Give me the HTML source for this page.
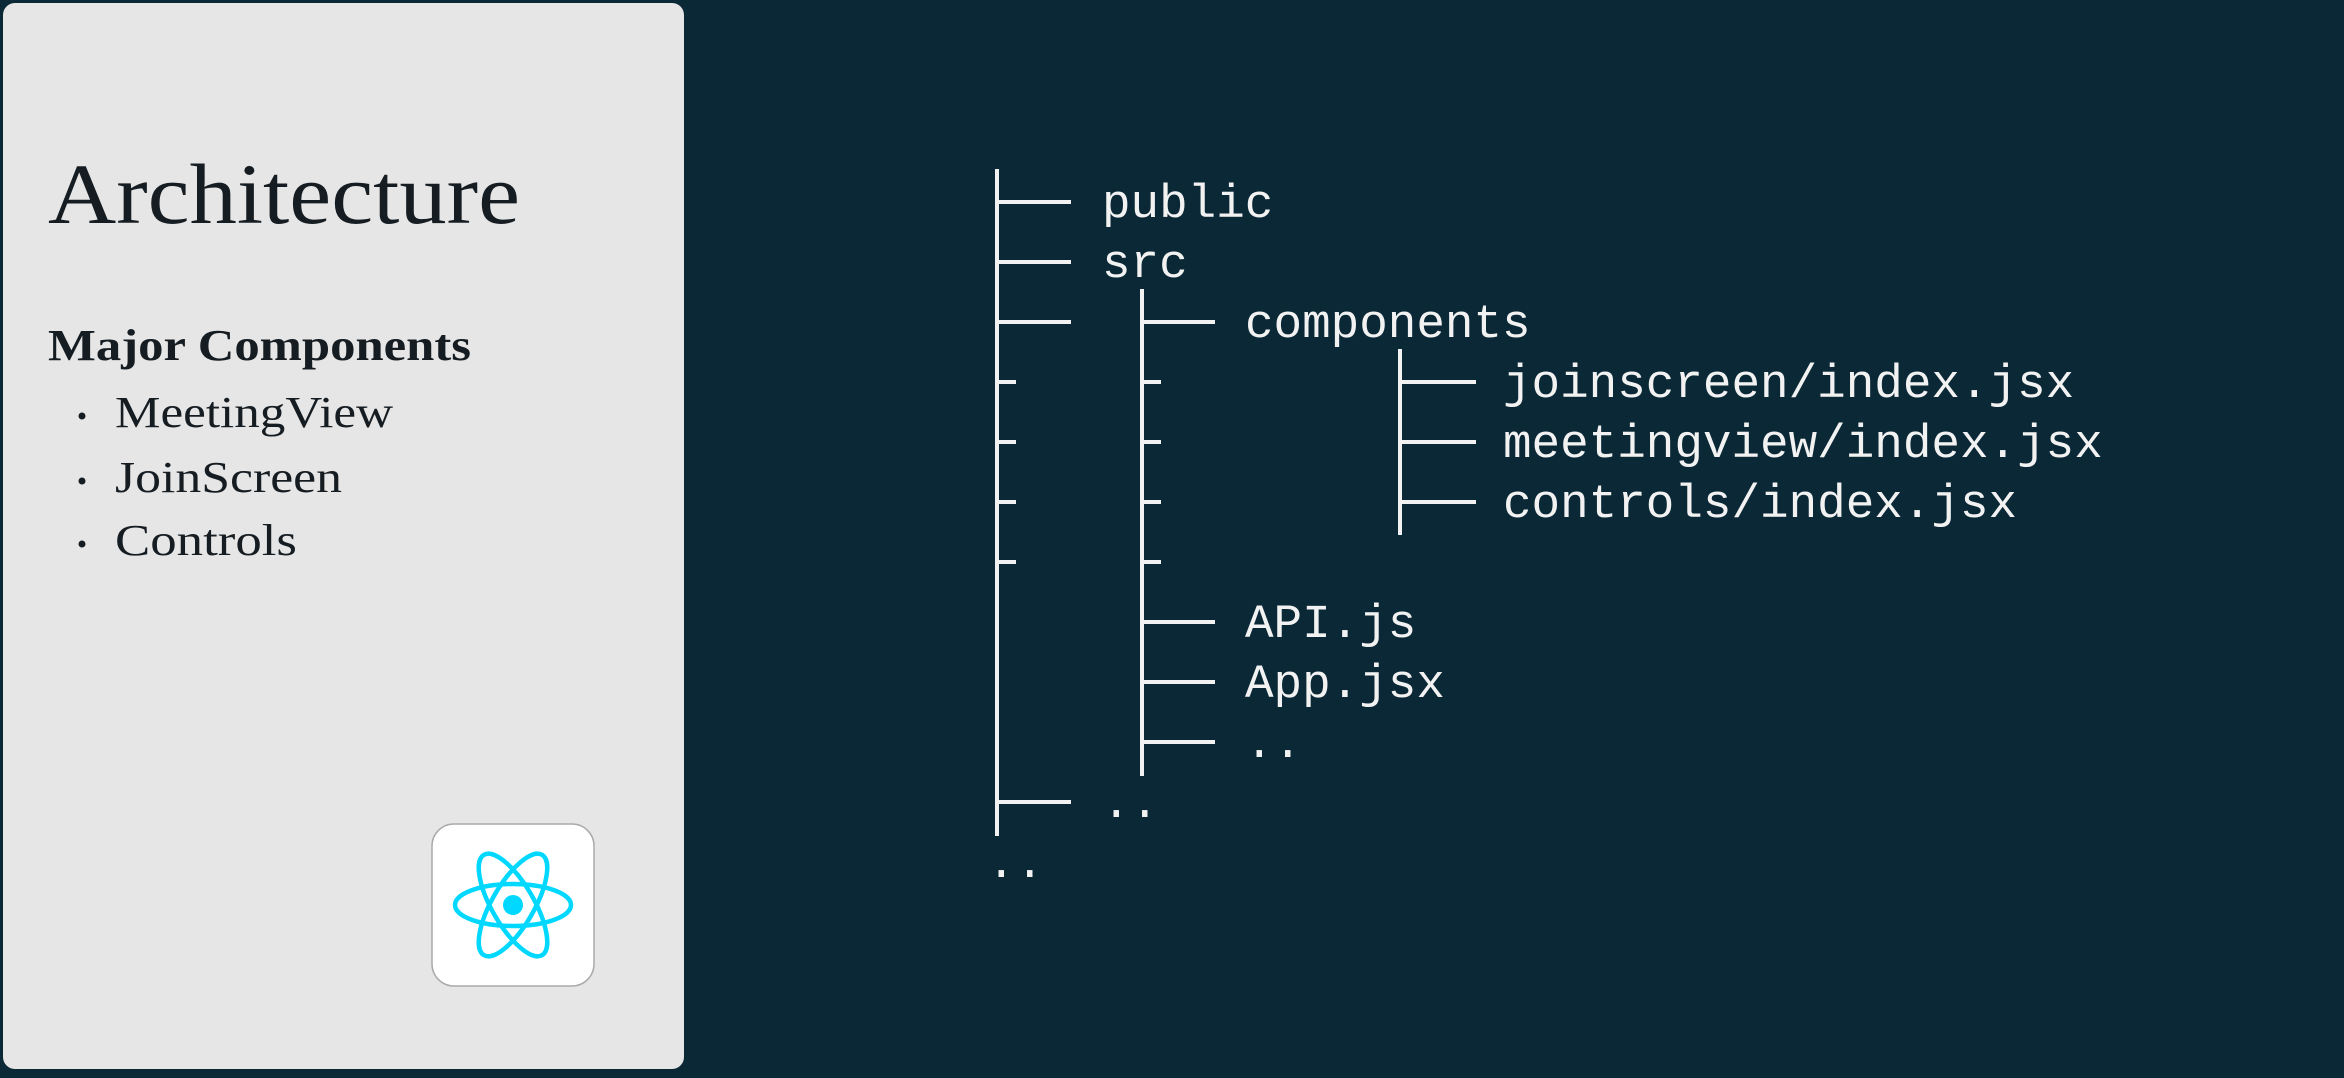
<!DOCTYPE html>
<html><head><meta charset="utf-8"><style>
html,body{margin:0;padding:0;background:#0b2836;}
body{width:2344px;height:1078px;overflow:hidden;position:relative;}
</style></head><body>
<svg width="2344" height="1078" viewBox="0 0 2344 1078" xmlns="http://www.w3.org/2000/svg" style="position:absolute;left:0;top:0">
<rect x="0" y="0" width="2344" height="1078" fill="#0b2836"/>
<rect x="3" y="3" width="681" height="1066" rx="12" fill="#e6e6e6"/>
<g font-family="Liberation Serif, serif" fill="#161d22">
<text x="48" y="223" font-size="86" textLength="472" lengthAdjust="spacingAndGlyphs">Architecture</text>
<text x="48" y="360" font-size="44" font-weight="bold" textLength="423" lengthAdjust="spacingAndGlyphs">Major Components</text>
<circle cx="82" cy="416" r="3.5"/>
<circle cx="82" cy="481" r="3.5"/>
<circle cx="82" cy="544" r="3.5"/>
<text x="115" y="427" font-size="44" textLength="278" lengthAdjust="spacingAndGlyphs">MeetingView</text>
<text x="115" y="492" font-size="44" textLength="227" lengthAdjust="spacingAndGlyphs">JoinScreen</text>
<text x="115" y="555" font-size="44" textLength="182" lengthAdjust="spacingAndGlyphs">Controls</text>
</g>
<rect x="432" y="824" width="162" height="162" rx="22" fill="#fff" stroke="#aaa" stroke-width="1.5"/>
<g fill="none" stroke="#00d8ff" stroke-width="4.5" transform="translate(513,905)">
<ellipse rx="58" ry="21"/>
<ellipse rx="58" ry="21" transform="rotate(60)"/>
<ellipse rx="58" ry="21" transform="rotate(120)"/>
</g>
<circle cx="513" cy="905" r="10" fill="#00d8ff"/>
<g stroke="#f2f2f2" stroke-width="4" fill="none">
<line x1="997" y1="169" x2="997" y2="836"/>
<line x1="1142" y1="289" x2="1142" y2="776"/>
<line x1="1400" y1="349" x2="1400" y2="535"/>
<path d="M997 202H1071M997 262H1071M997 322H1071M997 802H1071M997 382H1016M997 442H1016M997 502H1016M997 562H1016"/>
<path d="M1142 322H1215M1142 622H1215M1142 682H1215M1142 742H1215M1142 382H1161M1142 442H1161M1142 502H1161M1142 562H1161"/>
<path d="M1400 382H1476M1400 442H1476M1400 502H1476"/>
</g>
<g font-family="Liberation Mono, monospace" font-size="47.6" fill="#f2f2f2">
<text x="1102" y="217">public</text>
<text x="1102" y="277">src</text>
<text x="1245" y="337">components</text>
<text x="1503" y="397">joinscreen/index.jsx</text>
<text x="1503" y="457">meetingview/index.jsx</text>
<text x="1503" y="517">controls/index.jsx</text>
<text x="1245" y="637">API.js</text>
<text x="1245" y="697">App.jsx</text>
<text x="1245" y="757">..</text>
<text x="1102" y="817">..</text>
<text x="987" y="877">..</text>
</g>
</svg>
</body></html>
